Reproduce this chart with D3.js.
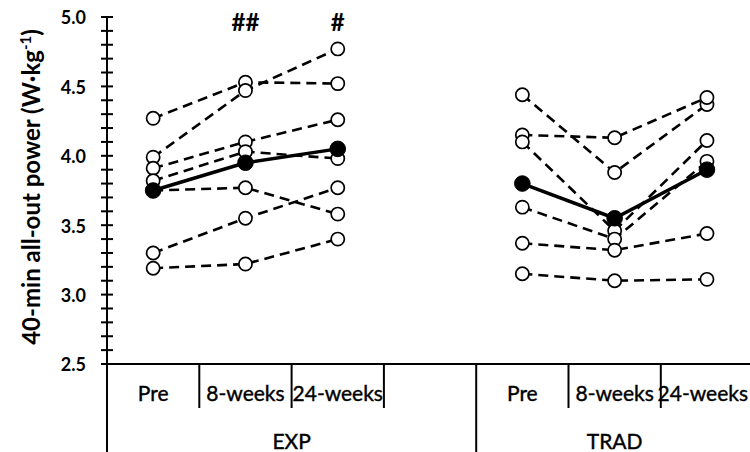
<!DOCTYPE html>
<html><head><meta charset="utf-8">
<script src="https://cdn.jsdelivr.net/npm/d3@7"></script>
<style>body{margin:0;background:#fff}svg{display:block}</style>
</head><body>
<svg id="c" width="750" height="452"></svg>
<script>
const groups = ["EXP", "TRAD"];
const timepoints = ["Pre", "8-weeks", "24-weeks"];
const expSubjects = [
  [4.27, 4.53, 4.52],
  [3.99, 4.47, 4.77],
  [3.91, 4.10, 4.26],
  [3.82, 4.03, 3.98],
  [3.75, 3.77, 3.58],
  [3.30, 3.55, 3.77],
  [3.19, 3.22, 3.40]
];
const expMean = [3.75, 3.95, 4.05];
const tradSubjects = [
  [4.44, 3.88, 4.37],
  [4.15, 4.13, 4.42],
  [4.10, 3.46, 4.11],
  [3.63, 3.40, 3.96],
  [3.37, 3.32, 3.44],
  [3.15, 3.10, 3.11]
];
const tradMean = [3.80, 3.55, 3.90];
const yTicks = [2.5, 3.0, 3.5, 4.0, 4.5, 5.0];
const annotations = [
  {group: "EXP", time: "8-weeks", text: "##"},
  {group: "EXP", time: "24-weeks", text: "#"}
];

const FONT = "Lato, 'Open Sans', sans-serif";
const W = 750;
const svg = d3.select("#c");

// slots: EXP has the three timepoints plus one empty slot, TRAD the three timepoints
const slots = [];
groups.forEach((g, gi) => {
  timepoints.forEach(t => slots.push(g + "|" + t));
  if (gi < groups.length - 1) slots.push(g + "|");
});

const left = 107, bandW = 92.3;
const x = d3.scaleBand().domain(slots).range([left, left + bandW * slots.length]).padding(0);
const y = d3.scaleLinear().domain([2.5, 5.0]).range([364, 17]);

const cx = (g, t) => x(g + "|" + t) + x.bandwidth() / 2;

// y axis line
svg.append("line").attr("x1", left).attr("x2", left).attr("y1", y(5.0) - 1).attr("y2", 452)
  .attr("stroke", "#000").attr("stroke-width", 2);
// x axis line
svg.append("line").attr("x1", left).attr("x2", W).attr("y1", y(2.5)).attr("y2", y(2.5))
  .attr("stroke", "#000").attr("stroke-width", 2);

// minor ticks every 0.1 crossing the axis
const minor = d3.range(25, 51).map(v => v / 10);
svg.append("g").selectAll("line").data(minor).join("line")
  .attr("x1", left - 6).attr("x2", left + 6)
  .attr("y1", d => y(d)).attr("y2", d => y(d))
  .attr("stroke", "#000").attr("stroke-width", 2);

// tick labels
svg.append("g").selectAll("text").data(yTicks).join("text")
  .attr("x", 86).attr("y", d => y(d) + 1).attr("dy", "0.36em")
  .attr("text-anchor", "end").attr("font-family", FONT).attr("font-weight", "bold")
  .attr("font-size", 18).text(d => d.toFixed(1));

// y label
const yl = svg.append("text").attr("transform", "translate(40,187) rotate(-90)")
  .attr("text-anchor", "middle").attr("font-family", FONT).attr("font-weight", "bold")
  .attr("font-size", 24);
yl.append("tspan").text("40-min all-out power (W\u00b7kg");
yl.append("tspan").attr("font-size", 15).attr("dy", -9).text("-1");
yl.append("tspan").attr("dy", 9).text(")");

// category separators
const catSep = svg.append("g");
slots.forEach((s, i) => {
  if (i === 0) return;
  const xs = x(s);
  const isGroupStart = s.endsWith("|Pre");
  catSep.append("line").attr("x1", xs).attr("x2", xs)
    .attr("y1", y(2.5)).attr("y2", isGroupStart ? 452 : 408)
    .attr("stroke", "#000").attr("stroke-width", 2);
});

// timepoint labels and group labels
groups.forEach(g => {
  timepoints.forEach(t => {
    const tx = svg.append("text").attr("x", cx(g, t)).attr("y", 401).attr("text-anchor", "middle")
      .attr("font-family", FONT).attr("font-size", 21)
      .attr("stroke", "#000").attr("stroke-width", 0.4).text(t);
    // keep label inside the picture
    const bb = tx.node().getBBox();
    if (bb.x + bb.width > W - 2) tx.attr("x", cx(g, t) - (bb.x + bb.width - (W - 2)));
  });
  const gs = slots.filter(s => s.startsWith(g + "|"));
  const gx = (x(gs[0]) + x(gs[gs.length - 1]) + x.bandwidth()) / 2;
  svg.append("text").attr("x", gx).attr("y", 449).attr("text-anchor", "middle")
    .attr("font-family", FONT).attr("font-size", 21)
    .attr("stroke", "#000").attr("stroke-width", 0.4).text(g);
});

// data
const line = d3.line().x(d => d[0]).y(d => d[1]);
function drawSeries(g, vals, mean) {
  const seriesG = svg.append("g");
  vals.forEach(row => {
    const pts = row.map((v, i) => [cx(g, timepoints[i]), y(v)]);
    seriesG.append("path").attr("d", line(pts)).attr("fill", "none")
      .attr("stroke", "#000").attr("stroke-width", 2.6).attr("stroke-dasharray", "10,6");
    seriesG.selectAll(null).data(pts).join("circle")
      .attr("cx", d => d[0]).attr("cy", d => d[1]).attr("r", 6.6)
      .attr("fill", "#fff").attr("stroke", "#000").attr("stroke-width", 1.7);
  });
  const mpts = mean.map((v, i) => [cx(g, timepoints[i]), y(v)]);
  seriesG.append("path").attr("d", line(mpts)).attr("fill", "none")
    .attr("stroke", "#000").attr("stroke-width", 3.5);
  seriesG.selectAll(null).data(mpts).join("circle")
    .attr("cx", d => d[0]).attr("cy", d => d[1]).attr("r", 7.8)
    .attr("fill", "#000").attr("stroke", "#000").attr("stroke-width", 1);
}
drawSeries("EXP", expSubjects, expMean);
drawSeries("TRAD", tradSubjects, tradMean);

// annotations
svg.append("g").selectAll("text").data(annotations).join("text")
  .attr("x", d => cx(d.group, d.time)).attr("y", 31).attr("text-anchor", "middle")
  .attr("font-family", FONT).attr("font-weight", "bold").attr("font-size", 24)
  .text(d => d.text);
</script>
</body></html>
